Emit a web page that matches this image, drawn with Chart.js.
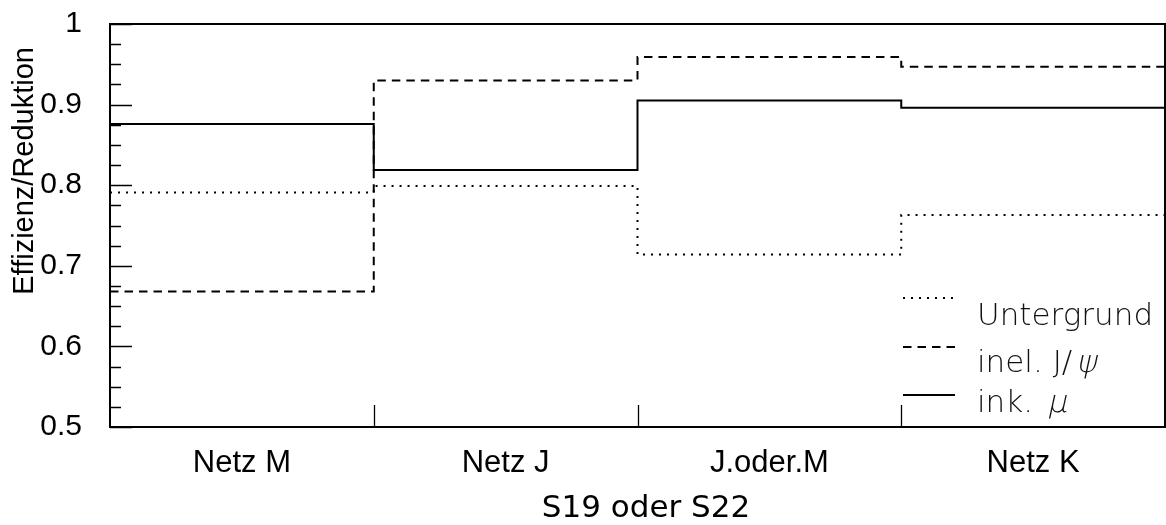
<!DOCTYPE html>
<html>
<head>
<meta charset="utf-8">
<script src="https://cdn.jsdelivr.net/npm/chart.js@4.4.1/dist/chart.umd.min.js"></script>
<style>
    html, body { margin: 0; padding: 0; background: #fff; }
    canvas { display: block; }
</style>
</head>
<body>
<canvas id="chart" width="1166" height="525"></canvas>
<script>
// bins and values
const binLabels = ['Netz M', 'Netz J', 'J.oder.M', 'Netz K'];
const inkMu = [0.876, 0.819, 0.905, 0.896];
const inelJpsi = [0.668, 0.930, 0.959, 0.947];
const untergrund = [0.791, 0.799, 0.714, 0.763];
const yTicks = [0.5, 0.6, 0.7, 0.8, 0.9, 1];
const yTickLabels = ['0.5', '0.6', '0.7', '0.8', '0.9', '1'];

// step histogram: one point at each bin's left edge, last value repeated at the right edge
function toSteps(values) {
    const pts = values.map((v, i) => ({ x: i, y: v }));
    pts.push({ x: values.length, y: values[values.length - 1] });
    return pts;
}

const seriesStyles = [
    { label: 'Untergrund', data: untergrund, dash: [2, 6] },
    { label: 'inel. J/ψ', data: inelJpsi, dash: [8.5, 6] },
    { label: 'ink. μ', data: inkMu, dash: [] }
];

// frame and inside ticks like the original HIGZ axes
const framePlugin = {
    id: 'frame',
    afterDatasetsDraw(chart) {
        const ctx = chart.ctx;
        const { left, top, right, bottom } = chart.chartArea;
        const xs = chart.scales.x;
        const ys = chart.scales.y;

        ctx.save();
        ctx.strokeStyle = '#000';
        ctx.lineWidth = 2;
        ctx.strokeRect(left, top, right - left, bottom - top);

        ctx.lineWidth = 1.3;
        ctx.beginPath();
        for (let i = 0; i <= 20; i++) {
            const v = 0.5 + i * 0.025;
            const y = Math.round(ys.getPixelForValue(v)) + 0.5;
            const len = i % 4 === 0 ? 22 : 11;
            ctx.moveTo(left, y);
            ctx.lineTo(left + len, y);
        }
        for (let i = 1; i < binLabels.length; i++) {
            const x = Math.round(xs.getPixelForValue(i)) + 0.5;
            ctx.moveTo(x, bottom);
            ctx.lineTo(x, bottom - 22);
        }
        ctx.stroke();
        ctx.restore();
    }
};

const titlesPlugin = {
    id: 'titles',
    afterDraw(chart) {
        const ctx = chart.ctx;
        ctx.save();
        ctx.fillStyle = '#000';

        // y axis title
        ctx.translate(25, 47);
        ctx.rotate(-Math.PI / 2);
        ctx.font = '29px "Liberation Sans"';
        ctx.textAlign = 'right';
        ctx.textBaseline = 'middle';
        ctx.fillText('Effizienz/Reduktion', 0, 0);
        ctx.setTransform(1, 0, 0, 1, 0, 0);

        // x axis title
        ctx.font = '31px "DejaVu Sans"';
        ctx.textAlign = 'center';
        ctx.textBaseline = 'alphabetic';
        ctx.fillText('S19 oder S22', 646, 517);
        ctx.restore();
    }
};

// legend in the lower right corner of the frame
const legendPlugin = {
    id: 'stepLegend',
    afterDraw(chart) {
        const ctx = chart.ctx;
        const sampleX0 = 903;
        const sampleX1 = 955;
        const textX = 977;
        const lineY = [298, 347, 395];
        const baseY = [325, 372, 412];

        ctx.save();
        chart.data.datasets.forEach((ds, i) => {
            ctx.strokeStyle = '#000';
            ctx.lineWidth = 2;
            ctx.setLineDash(ds.borderDash);
            ctx.beginPath();
            ctx.moveTo(sampleX0, lineY[i]);
            ctx.lineTo(sampleX1, lineY[i]);
            ctx.stroke();
            ctx.setLineDash([]);

            ctx.fillStyle = '#111';
            ctx.textBaseline = 'alphabetic';
            ctx.textAlign = 'left';
            ctx.font = '200 31px "DejaVu Sans"';
            const label = ds.label;
            const greek = label.slice(-1);
            if (greek === 'ψ' || greek === 'μ') {
                const head = label.slice(0, -1);
                ctx.fillText(head, textX, baseY[i]);
                const w = ctx.measureText(head).width;
                // slanted thin greek letter
                ctx.save();
                ctx.translate(textX + w + 4, baseY[i]);
                ctx.transform(1, 0, -0.22, 1, 0, 0);
                ctx.fillText(greek, 0, 0);
                ctx.restore();
            } else {
                ctx.fillText(label, textX, baseY[i]);
            }
        });
        ctx.restore();
    }
};

const ctx = document.getElementById('chart').getContext('2d');
new Chart(ctx, {
    type: 'line',
    data: {
        datasets: seriesStyles.map(s => ({
            label: s.label,
            data: toSteps(s.data),
            stepped: true,
            borderColor: '#000',
            borderWidth: 2,
            borderDash: s.dash,
            pointRadius: 0,
            fill: false
        }))
    },
    options: {
        responsive: false,
        animation: false,
        layout: { padding: { top: 24, right: 1, left: 0, bottom: 0 } },
        plugins: {
            legend: { display: false },
            tooltip: { enabled: false }
        },
        scales: {
            x: {
                type: 'linear',
                min: 0,
                max: binLabels.length,
                grid: { display: false },
                border: { display: false },
                afterBuildTicks: scale => {
                    scale.ticks = binLabels.map((l, i) => ({ value: i + 0.5 }));
                },
                ticks: {
                    callback: (value, index) => binLabels[index],
                    font: { family: 'Liberation Sans', size: 31 },
                    color: '#000',
                    padding: 10,
                    maxRotation: 0,
                    autoSkip: false
                },
                afterFit: scale => {
                    scale.height = 98;
                    scale.paddingLeft = 0;
                    scale.paddingRight = 0;
                }
            },
            y: {
                min: 0.5,
                max: 1,
                grid: { display: false },
                border: { display: false },
                afterBuildTicks: scale => {
                    scale.ticks = yTicks.map(v => ({ value: v }));
                },
                ticks: {
                    callback: (value, index) => yTickLabels[index],
                    font: { family: 'Liberation Sans', size: 30 },
                    color: '#000',
                    padding: 20
                },
                afterFit: scale => {
                    scale.width = 110;
                    scale.paddingTop = 0;
                    scale.paddingBottom = 0;
                }
            }
        }
    },
    plugins: [framePlugin, titlesPlugin, legendPlugin]
});
</script>
</body>
</html>
